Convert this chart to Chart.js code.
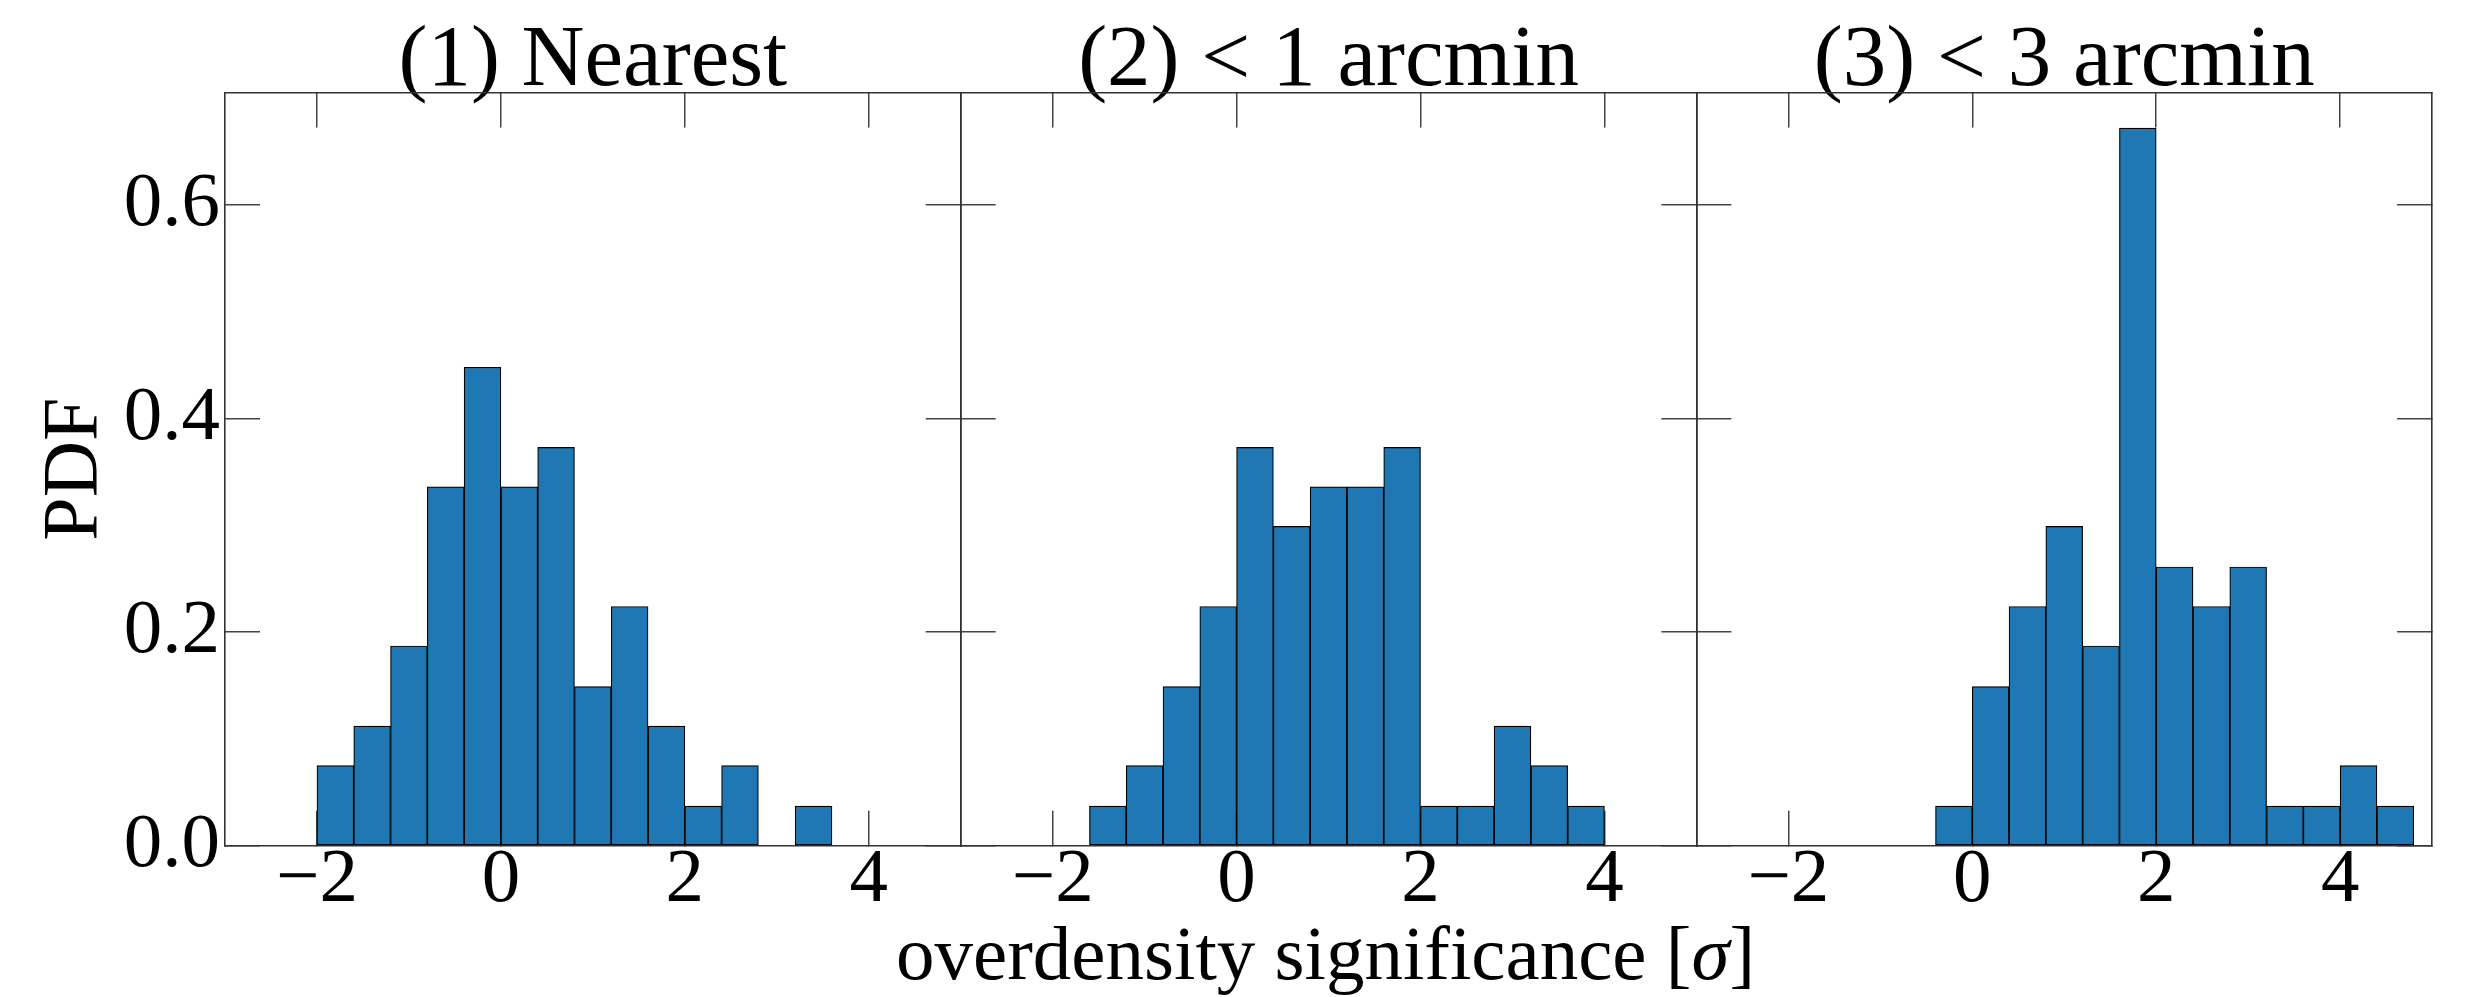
<!DOCTYPE html>
<html>
<head>
<meta charset="utf-8">
<script src="https://cdn.jsdelivr.net/npm/chart.js@4/dist/chart.umd.min.js"></script>
<style>
  html, body { margin: 0; padding: 0; background: #fff; }
  #wrap { position: relative; width: 2480px; height: 997px; background: #fff; }
  #wrap canvas { position: absolute; left: 0; top: 0; }
</style>
</head>
<body>
<div id="wrap">
  <canvas id="c1" width="2480" height="997"></canvas>
  <canvas id="c2" width="2480" height="997"></canvas>
  <canvas id="c3" width="2480" height="997"></canvas>
</div>
<script>
// panel titles and axis labels
const titles = ['(1) Nearest', '(2) < 1 arcmin', '(3) < 3 arcmin'];
const yLabel = 'PDF';
const xLabelParts = ['overdensity significance [', '\u03c3', ']'];

// tick values
const xTicks = [-2, 0, 2, 4];
const yTicks = [0.0, 0.2, 0.4, 0.6];

// histogram bins (centres, width 0.4) and PDF heights
const bins1 = [-1.8, -1.4, -1.0, -0.6, -0.2, 0.2, 0.6, 1.0, 1.4, 1.8, 2.2, 2.6, 3.0, 3.4];
const pdf1  = [0.075, 0.112, 0.187, 0.336, 0.448, 0.336, 0.373, 0.149, 0.224, 0.112, 0.037, 0.075, 0, 0.037];

const bins2 = [-1.4, -1.0, -0.6, -0.2, 0.2, 0.6, 1.0, 1.4, 1.8, 2.2, 2.6, 3.0, 3.4, 3.8];
const pdf2  = [0.037, 0.075, 0.149, 0.224, 0.373, 0.299, 0.336, 0.336, 0.373, 0.037, 0.037, 0.112, 0.075, 0.037];

const bins3 = [-0.2, 0.2, 0.6, 1.0, 1.4, 1.8, 2.2, 2.6, 3.0, 3.4, 3.8, 4.2, 4.6];
const pdf3  = [0.037, 0.149, 0.224, 0.299, 0.187, 0.672, 0.261, 0.224, 0.261, 0.037, 0.037, 0.075, 0.037];

// layout
const W = 2480, H = 997;
const plotLeft = 225, plotBottom = 845.7, panelW = 735.7;
const SERIF = '"Liberation Serif", "Times New Roman", serif';
const SPINE = '#333';
const TICK = '#444';

const minus = v => String(v).replace('-', '\u2212');

// draws the shared x label under the middle panel (needs an italic sigma)
const xLabelPlugin = {
  id: 'xLabel',
  afterDraw(chart) {
    const ctx = chart.ctx;
    const area = chart.chartArea;
    const fonts = ['77px ' + SERIF, 'italic 77px ' + SERIF, '77px ' + SERIF];
    let widths = xLabelParts.map((t, i) => { ctx.font = fonts[i]; return ctx.measureText(t).width; });
    let total = widths.reduce((a, b) => a + b, 0);
    let x = (area.left + area.right) / 2 - 3 - total / 2;
    const y = area.bottom + 133.5;
    ctx.save();
    ctx.fillStyle = '#000';
    ctx.textAlign = 'left';
    ctx.textBaseline = 'alphabetic';
    xLabelParts.forEach((t, i) => {
      ctx.font = fonts[i];
      ctx.fillText(t, x, y);
      x += widths[i];
    });
    ctx.restore();
  }
};

function makePanel(id, idx, bins, pdf) {
  const left = plotLeft + idx * panelW;
  const first = idx === 0;

  new Chart(document.getElementById(id), {
    type: 'bar',
    data: {
      datasets: [{
        data: bins.map((b, k) => ({ x: b, y: pdf[k] })),
        backgroundColor: '#1f77b4',
        borderColor: '#000',
        borderWidth: 1.2,
        borderSkipped: false,
        categoryPercentage: 1,
        barPercentage: 1
      }]
    },
    plugins: idx === 1 ? [xLabelPlugin] : [],
    options: {
      responsive: false,
      animation: false,
      events: [],
      layout: { padding: { left: first ? 0 : left, right: W - left - panelW, top: 0, bottom: 0 } },
      plugins: {
        legend: { display: false },
        tooltip: { enabled: false },
        title: {
          display: true,
          text: titles[idx],
          fullSize: false,
          color: '#000',
          font: { family: SERIF, size: 87, weight: 'normal', lineHeight: 0.8 },
          padding: { top: 27, bottom: -4 }
        }
      },
      scales: {
        x: {
          type: 'linear', position: 'bottom', min: -3, max: 5, offset: false,
          afterBuildTicks: s => { s.ticks = xTicks.map(v => ({ value: v })); },
          afterFit: s => { s.height = H - plotBottom; },
          grid: { offset: false, drawOnChartArea: false, tickLength: -35, color: TICK, lineWidth: 1.5 },
          border: { display: true, color: SPINE, width: 1.6 },
          ticks: {
            padding: 32, color: '#000', maxRotation: 0, autoSkip: false,
            font: { family: SERIF, size: 77, lineHeight: 1 },
            callback: v => minus(v)
          }
        },
        x2: {
          type: 'linear', position: 'top', min: -3, max: 5, offset: false,
          afterBuildTicks: s => { s.ticks = xTicks.map(v => ({ value: v })); },
          afterFit: s => { s.height = 0; },
          grid: { offset: false, drawOnChartArea: false, tickLength: -35, color: TICK, lineWidth: 1.5 },
          border: { display: true, color: SPINE, width: 1.6 },
          ticks: { display: false }
        },
        y: {
          type: 'linear', position: 'left', min: 0, max: 0.7052,
          afterBuildTicks: s => { s.ticks = yTicks.map(v => ({ value: v })); },
          afterFit: s => { s.width = first ? plotLeft : 0; },
          grid: { drawOnChartArea: false, tickLength: -35, color: TICK, lineWidth: 1.5 },
          border: { display: true, color: SPINE, width: 1.6 },
          ticks: {
            display: first, padding: 40, color: '#000',
            font: { family: SERIF, size: 77, lineHeight: 1 },
            callback: v => v.toFixed(1)
          },
          title: {
            display: first, text: yLabel, color: '#000',
            font: { family: SERIF, size: 78, lineHeight: 1 },
            padding: { top: 37, bottom: 0 }
          }
        },
        y2: {
          type: 'linear', position: 'right', min: 0, max: 0.7052,
          afterBuildTicks: s => { s.ticks = yTicks.map(v => ({ value: v })); },
          afterFit: s => { s.width = 0; },
          grid: { drawOnChartArea: false, tickLength: -35, color: TICK, lineWidth: 1.5 },
          border: { display: true, color: SPINE, width: 1.6 },
          ticks: { display: false }
        }
      }
    }
  });
}

makePanel('c1', 0, bins1, pdf1);
makePanel('c2', 1, bins2, pdf2);
makePanel('c3', 2, bins3, pdf3);
</script>
</body>
</html>
